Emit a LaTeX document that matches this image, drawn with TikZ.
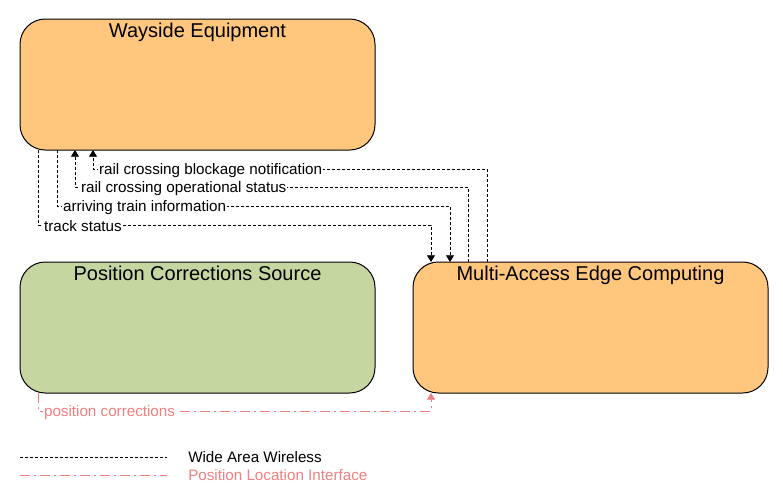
\documentclass[tikz,border=0pt]{standalone}
\usepackage{fontspec}
\setmainfont{Liberation Sans}
\usetikzlibrary{arrows.meta}
\definecolor{boxorange}{RGB}{255,199,125}
\definecolor{boxgreen}{RGB}{197,214,160}
\definecolor{pinkline}{RGB}{240,128,128}
\begin{document}
\begin{tikzpicture}[x=0.75pt,y=-0.75pt,
  box/.style={draw=black, line width=0.75pt, rounded corners=19pt,
    minimum width=266.25pt, minimum height=98.25pt, inner sep=0pt, outer sep=0pt},
  title/.style={font=\fontsize{15pt}{17pt}\selectfont, anchor=north, inner sep=0pt},
  wire/.style={draw=black, line width=0.6pt, dash pattern=on 2.25pt off 1.5pt},
  pcwire/.style={draw=pinkline, line width=0.6pt, dash pattern=on 7.5pt off 3pt on 1.5pt off 3pt},
  arr/.style={-{Triangle[width=6pt,length=5pt]}},
  lbl/.style={font=\fontsize{11.4pt}{13pt}\selectfont, fill=white, inner sep=0.75pt, anchor=west},
  onwire/.style={lbl, xshift=3.5pt, yshift=-1pt}
]
\useasboundingbox (0,0) rectangle (783,504);

\node[box, fill=boxorange] (we) at (197.5,84.5) {};
\node[title] (wet) at ([yshift=-3pt]we.north) {Wayside Equipment};
\node[box, fill=boxgreen] (pcs) at (197.5,327.5) {};
\node[title] (pcst) at ([yshift=-3pt]pcs.north) {Position Corrections Source};
\node[box, fill=boxorange] (mec) at (590.5,327.5) {};
\node[title] (mect) at ([yshift=-3pt]mec.north) {Multi-Access Edge Computing};

% attachment points
\path (we.south west) ++(73,0) coordinate (w1);
\path (we.south west) ++(55,0) coordinate (w2);
\path (we.south west) ++(37,0) coordinate (w3);
\path (we.south west) ++(18,0) coordinate (w4);
\path (mec.north west) ++(74,0) coordinate (m1);
\path (mec.north west) ++(55,0) coordinate (m2);
\path (mec.north west) ++(37,0) coordinate (m3);
\path (mec.north west) ++(18,0) coordinate (m4);
\path (pcs.south west) ++(18,0) coordinate (p1);
\path (mec.south west) ++(18,0) coordinate (m5);

\draw[wire,arr] (m1) -- (m1 |- 0,169) -- node[onwire,pos=1] (l1) {rail crossing blockage notification} (w1 |- 0,169) -- (w1);
\draw[wire,arr] (m2) -- (m2 |- 0,187) -- node[onwire,pos=1] (l2) {rail crossing operational status} (w2 |- 0,187) -- (w2);
\draw[wire,arr] (w3) -- (w3 |- 0,206) node[onwire] (l3) {arriving train information} -- (m3 |- 0,206) -- (m3);
\draw[wire,arr] (w4) -- (w4 |- 0,225) node[onwire] (l4) {track status} -- (m4 |- 0,225) -- (m4);
\draw[pcwire,-{Triangle[width=6pt,length=5pt,fill=pinkline]}] (p1) -- (p1 |- 0,411) node[onwire,text=pinkline] (l5) {position corrections} -- (m5 |- 0,411) -- (m5);

% legend
\coordinate (la) at (20,457);
\coordinate (lb) at (167,457);
\coordinate (lc) at (20,475);
\coordinate (ld) at (167,475);
\draw[wire] (la) -- (lb);
\draw[pcwire] (lc) -- (ld);
\node[lbl, inner sep=0pt] (lt1) at (188,457) {Wide Area Wireless};
\node[lbl, inner sep=0pt, text=pinkline] (lt2) at (188,475) {Position Location Interface};
\end{tikzpicture}
\end{document}
